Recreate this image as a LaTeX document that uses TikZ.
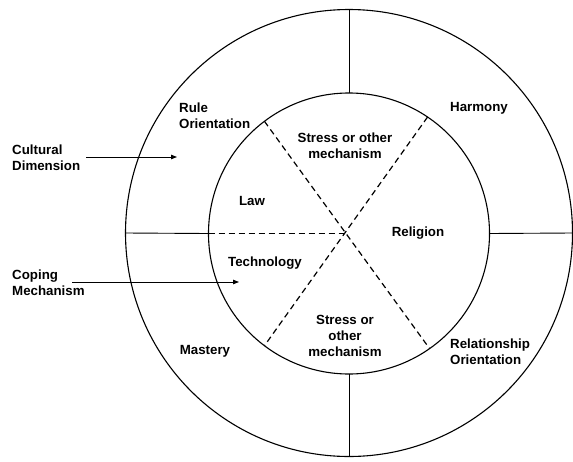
\documentclass[tikz,border=0pt]{standalone}
\usepackage{fontspec}
\setmainfont{Liberation Sans}
\usetikzlibrary{arrows.meta}
\begin{document}
\begin{tikzpicture}[x=1pt,y=-1pt,
  ring/.style={draw,circle,line width=1.1pt,inner sep=0pt,outer sep=0pt},
  lbl/.style={font=\bfseries\fontsize{13.3}{15.8}\selectfont, inner sep=0pt, align=center},
  lbll/.style={lbl, align=left},
  divider/.style={line width=0.9pt},
  spoke/.style={line width=1.2pt, dash pattern=on 6pt off 4pt},
  pointer/.style={line width=0.9pt, -{Triangle[length=6pt,width=4.5pt]}}]
\useasboundingbox (0,0) rectangle (573,461);
\node[ring, minimum size=447pt] (outer) at (349,233) {};
\node[ring, minimum size=281pt] (inner) at (349,233.5) {};
\coordinate (hub) at (345.5,233.5);
% solid dividers in the outer ring
\draw[divider] (outer.north) -- (inner.north);
\draw[divider] (outer.south) -- (inner.south);
\draw[divider] (outer.west) -- (inner.west);
\draw[divider] (outer.east) -- (inner.east);
% dashed spokes in the inner circle
\draw[spoke] (inner.127) -- (inner.305);
\draw[spoke] (inner.56.5) -- (inner.233);
\draw[spoke] (inner.west) -- (hub);
% labels
\node[lbll, anchor=west] (rule) at (179,116) {Rule\\Orientation};
\node[lbl] (harmony) at (479,108) {Harmony};
\node[lbl] (stress1) at (345,146) {Stress or other\\mechanism};
\node[lbl] (law) at (252,201) {Law};
\node[lbl] (religion) at (418,233) {Religion};
\node[lbl] (tech) at (265,263) {Technology};
\node[lbl] (stress2) at (345,336) {Stress or\\other\\mechanism};
\node[lbl] (mastery) at (205,351) {Mastery};
\node[lbll, anchor=west] (rel) at (450,351.5) {Relationship\\Orientation};
\node[lbll, anchor=west] (cult) at (12,157.5) {Cultural\\Dimension};
\node[lbll, anchor=west] (coping) at (12,282.5) {Coping\\Mechanism};
% pointers
\coordinate (cultA) at (86,157);
\coordinate (cultB) at (177,157);
\coordinate (copA) at (72,282);
\coordinate (copB) at (239,282);
\draw[pointer] (cultA) -- (cultB);
\draw[pointer] (copA) -- (copB);
\end{tikzpicture}
\end{document}
